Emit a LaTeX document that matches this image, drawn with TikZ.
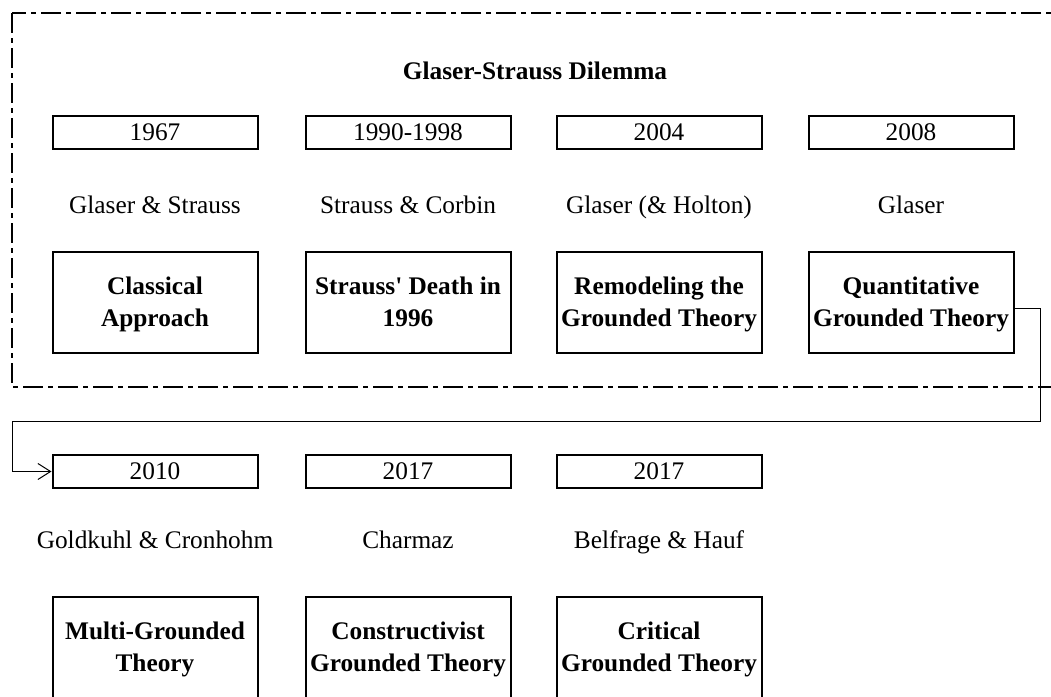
\documentclass[tikz,border=0pt]{standalone}
\usepackage{fontspec}
\setmainfont{Liberation Serif}
\usetikzlibrary{arrows.meta}

\begin{document}
\begin{tikzpicture}[x=0.75pt,y=-0.75pt]
\tikzstyle{every node}+=[font=\fontsize{19pt}{24pt}\selectfont]
\tikzstyle{yearbox}=[draw,black,line width=1.5pt,minimum width=153.75pt,minimum height=24.75pt,inner sep=0pt]
\tikzstyle{theorybox}=[draw,black,line width=1.5pt,minimum width=153.75pt,minimum height=75.75pt,inner sep=0pt,text height=40pt,text depth=4pt,align=center,font=\fontsize{19pt}{24pt}\selectfont\bfseries]
\tikzstyle{authors}=[inner sep=0pt,anchor=base]
\tikzstyle{link}=[black,line width=0.75pt,-{Straight Barb[length=9.5pt,width=12pt]}]
\useasboundingbox (0,0) rectangle (1051,697);
\clip (0,0) rectangle (1051,697);
\draw [black,line width=1.5pt,dash pattern=on 15pt off 3.75pt on 3.75pt off 3.75pt] (12,13) rectangle (1080,387);
\node [authors,font=\fontsize{19pt}{24pt}\selectfont\bfseries] (title) at (535,79) {Glaser-Strauss Dilemma};
% first row
\node [yearbox] (y1967) at (155,132) {1967};
\node [yearbox] (y1990) at (408,132) {1990-1998};
\node [yearbox] (y2004) at (659,132) {2004};
\node [yearbox] (y2008) at (911,132) {2008};
\node [authors] (a1967) at (155,213) {Glaser \& Strauss};
\node [authors] (a1990) at (408,213) {Strauss \& Corbin};
\node [authors] (a2004) at (659,213) {Glaser (\& Holton)};
\node [authors] (a2008) at (911,213) {Glaser};
\node [theorybox] (q1) at (155,302.5) {Classical\\Approach};
\node [theorybox] (q2) at (408,302.5) {Strauss\textquotesingle{} Death in\\1996};
\node [theorybox] (q3) at (659,302.5) {Remodeling the\\Grounded Theory};
\node [theorybox] (q4) at (911,302.5) {Quantitative\\Grounded Theory};
% second row
\node [yearbox] (y2010) at (155,471.5) {2010};
\node [yearbox] (y2017a) at (408,471.5) {2017};
\node [yearbox] (y2017b) at (659,471.5) {2017};
\node [authors] (a2010) at (155,548) {Goldkuhl \& Cronhohm};
\node [authors] (a2017a) at (408,548) {Charmaz};
\node [authors] (a2017b) at (659,548) {Belfrage \& Hauf};
\node [theorybox] (q5) at (155,647.5) {Multi-Grounded\\Theory};
\node [theorybox] (q6) at (408,647.5) {Constructivist\\Grounded Theory};
\node [theorybox] (q7) at (659,647.5) {Critical\\Grounded Theory};
\draw [link] ([yshift=-4.5pt]q4.east) -- ++(26,0) |- (12,421) |- (y2010.west);
\end{tikzpicture}
\end{document}
